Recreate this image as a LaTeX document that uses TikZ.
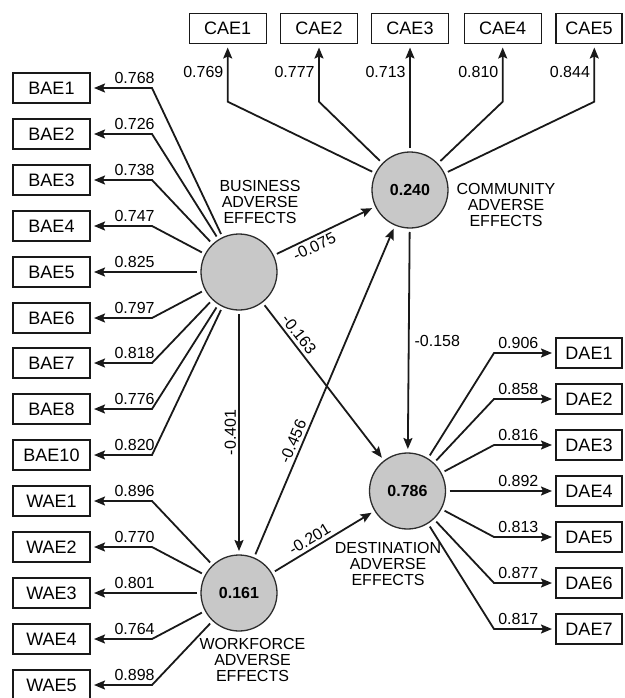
\documentclass[tikz,border=0pt]{standalone}
\usepackage{fontspec}
\setmainfont{Liberation Sans}
\usetikzlibrary{arrows.meta}
\tikzstyle{pathModel} = [x = 1pt, y = -1pt, >={Stealth[length = 11pt, width = 9pt, inset = 2pt]}]
\definecolor{latentFill}{RGB}{200,200,200}
\definecolor{latentBorder}{RGB}{45,45,45}
\definecolor{lineColor}{RGB}{25,25,25}
\tikzstyle{itemBox} = [draw = lineColor, line width = 1.3pt, minimum width = 77pt, minimum height = 30pt, inner sep = 0pt, outer sep = 4pt, font = \fontsize{18}{20}\selectfont]
\tikzstyle{itemBoxRight} = [itemBox, minimum width = 66pt]
\tikzstyle{latentCircle} = [circle, draw = latentBorder, fill = latentFill, line width = 1.3pt, minimum size = 76pt, inner sep = 0pt, outer sep = 4pt, font = \fontsize{16}{16}\selectfont\bfseries]
\tikzstyle{latentName} = [align = center, inner sep = 0pt, font = \fontsize{16}{16}\selectfont]
\tikzstyle{loadingLine} = [color = lineColor, line width = 1.8pt, ->]
\tikzstyle{loadingText} = [text = black, inner sep = 3.5pt, font = \fontsize{16}{18}\selectfont]
\tikzstyle{pathLine} = [color = lineColor, line width = 1.8pt, ->]
\tikzstyle{pathText} = [loadingText, sloped, inner sep = 3pt]
\newcommand{\leftItem}[4]{
  \node[itemBox] (#1) at (51.5, #3) {#1};
  \coordinate (#1Bend) at (152, #3);
  \draw[loadingLine] (#2) -- (#1Bend) -- node[loadingText, pos = .3, above] {#4} (#1);
}
\newcommand{\topItem}[4]{
  \node[itemBox, minimum width = #3] (#1) at (#2, 28.5) {#1};
  \coordinate (#1Bend) at (#2, 101.7);
  \draw[loadingLine] (community) -- (#1Bend) -- node[loadingText, pos = .55, left] {#4} (#1Bend |- #1.south);
}
\newcommand{\rightItem}[3]{
  \node[itemBoxRight] (#1) at (589, #2) {#1};
  \coordinate (#1Bend) at (494, #2);
  \draw[loadingLine] (destination) -- (#1Bend) -- node[loadingText, pos = .42, above] {#3} (#1);
}
\begin{document}
\begin{tikzpicture}[pathModel]
  \useasboundingbox (0, 0) rectangle (624, 698);

  % latent variables
  \node[latentCircle] (business) at (239, 272) {};
  \node[latentCircle] (community) at (410, 190) {0.240};
  \node[latentCircle] (workforce) at (239, 593) {0.161};
  \node[latentCircle] (destination) at (407.5, 491) {0.786};

  \node[latentName] (businessName) at (260, 202) {BUSINESS\\ADVERSE\\EFFECTS};
  \node[latentName] (communityName) at (506, 205) {COMMUNITY\\ADVERSE\\EFFECTS};
  \node[latentName] (workforceName) at (252.5, 660) {WORKFORCE\\ADVERSE\\EFFECTS};
  \node[latentName] (destinationName) at (388, 564) {DESTINATION\\ADVERSE\\EFFECTS};

  % indicators
  \foreach \name/\y/\value in {BAE1/88/0.768, BAE2/134/0.726, BAE3/180/0.738, BAE4/226/0.747, BAE5/272/0.825, BAE6/318/0.797, BAE7/363/0.818, BAE8/409/0.776, BAE10/455/0.820} {
    \leftItem{\name}{business}{\y}{\value}
  }
  \foreach \name/\y/\value in {WAE1/501/0.896, WAE2/547/0.770, WAE3/593/0.801, WAE4/639/0.764, WAE5/685/0.898} {
    \leftItem{\name}{workforce}{\y}{\value}
  }
  \topItem{CAE1}{227.7}{77pt}{0.769}
  \topItem{CAE2}{319}{77pt}{0.777}
  \topItem{CAE3}{410}{77pt}{0.713}
  \topItem{CAE4}{502.7}{77pt}{0.810}
  \node[itemBox, minimum width = 66pt] (CAE5) at (589, 28.5) {CAE5};
  \coordinate (CAE5Bend) at (594.3, 101.7);
  \draw[loadingLine] (community) -- (CAE5Bend) -- node[loadingText, pos = .55, left] {0.844} (CAE5Bend |- CAE5.south);
  \foreach \name/\y/\value in {DAE1/353/0.906, DAE2/399/0.858, DAE3/445/0.816, DAE4/491/0.892, DAE5/537/0.813, DAE6/583/0.877, DAE7/629/0.817} {
    \rightItem{\name}{\y}{\value}
  }

  % structural paths
  \draw[pathLine] (business) -- node[pathText, pos = .35, below] {-0.075} (community);
  \draw[pathLine] (business) -- node[pathText, pos = .23, above] {-0.163} (destination);
  \draw[pathLine] (business) -- node[loadingText, rotate = 90, above, inner sep = 2pt] {-0.401} (workforce);
  \draw[pathLine] (workforce) -- node[pathText, pos = .335, above] {-0.456} (community);
  \draw[pathLine] (workforce) -- node[pathText, pos = .41, above] {-0.201} (destination);
  \draw[pathLine] (community) -- node[loadingText, right, inner sep = 5pt] {-0.158} (destination);
\end{tikzpicture}
\end{document}
